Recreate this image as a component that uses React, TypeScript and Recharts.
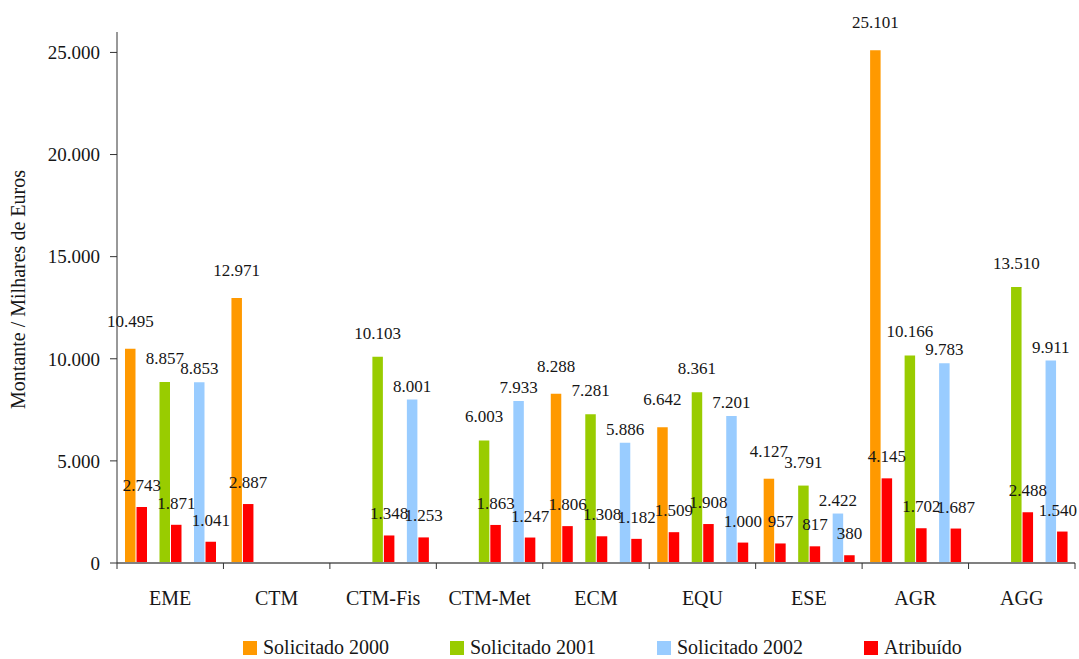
import { BarChart, Bar, XAxis, YAxis, Legend, LabelList, Label } from 'recharts';

const categories = ['EME', 'CTM', 'CTM-Fis', 'CTM-Met', 'ECM', 'EQU', 'ESE', 'AGR', 'AGG'];
const solicitado2000 = [10495, 12971, null, null, 8288, 6642, 4127, 25101, null];
const atribuido2000 = [2743, 2887, null, null, 1806, 1509, 957, 4145, null];
const solicitado2001 = [8857, null, 10103, 6003, 7281, 8361, 3791, 10166, 13510];
const atribuido2001 = [1871, null, 1348, 1863, 1308, 1908, 817, 1702, 2488];
const solicitado2002 = [8853, null, 8001, 7933, 5886, 7201, 2422, 9783, 9911];
const atribuido2002 = [1041, null, 1253, 1247, 1182, 1000, 380, 1687, 1540];
const yTicks = [0, 5000, 10000, 15000, 20000, 25000];
const legendLabels = ['Solicitado 2000', 'Solicitado 2001', 'Solicitado 2002', 'Atribuído'];

const ORANGE = '#FF9900';
const GREEN = '#99CC00';
const BLUE = '#99CCFF';
const RED = '#FF0000';
const legendColors = [ORANGE, GREEN, BLUE, RED];

const FONT = "'Liberation Serif', 'DejaVu Serif', serif";
const TEXT = '#161616';

const W = 1079;
const H = 659;
const MARGIN = { top: 32, right: 4, bottom: 0, left: 0 };
const Y_AXIS_W = 117;
const BAND = (W - MARGIN.right - MARGIN.left - Y_AXIS_W) / categories.length;

const data = categories.map((name, i) => ({
  name,
  s2000: solicitado2000[i],
  a2000: atribuido2000[i],
  s2001: solicitado2001[i],
  a2001: atribuido2001[i],
  s2002: solicitado2002[i],
  a2002: atribuido2002[i],
}));

// portuguese style thousands: 10.495
const fmt = (v: any) => {
  if (v === null || v === undefined || v === '') return '';
  return String(v).replace(/\B(?=(\d{3})+(?!\d))/g, '.');
};

// value label above a bar; lift = gap between bar top and text baseline
const valueLabel = (lift: number) => (props: any) => {
  const { value } = props;
  if (value === null || value === undefined) return null;
  const vb = props.viewBox || props;
  let cx = vb.x + vb.width / 2;
  let anchor: 'middle' | 'end' = 'middle';
  if (cx + 20 > W) {
    cx = W - 2;
    anchor = 'end';
  }
  return (
    <text x={cx} y={vb.y - lift} textAnchor={anchor} fill={TEXT} fontSize={17} fontFamily={FONT}>
      {fmt(value)}
    </text>
  );
};

function CategoryTick(props: any) {
  const { x, y, payload, index } = props;
  const half = BAND / 2;
  return (
    <g>
      <line x1={x - half} x2={x - half} y1={y} y2={y + 6} stroke="#333" />
      {index === categories.length - 1 && (
        <line x1={x + half} x2={x + half} y1={y} y2={y + 6} stroke="#333" />
      )}
      <text x={x} y={y + 42} textAnchor="middle" fill={TEXT} fontSize={20} fontFamily={FONT}>
        {payload.value}
      </text>
    </g>
  );
}

function YTitle(props: any) {
  const { viewBox } = props;
  const cx = 25;
  const cy = viewBox.y + viewBox.height / 2 - 8;
  return (
    <text
      x={cx}
      y={cy}
      transform={`rotate(-90, ${cx}, ${cy})`}
      textAnchor="middle"
      fill={TEXT}
      fontSize={20}
      fontFamily={FONT}
    >
      Montante / Milhares de Euros
    </text>
  );
}

function ChartLegend() {
  return (
    <div
      style={{
        display: 'flex',
        alignItems: 'flex-end',
        height: 46,
        paddingLeft: 243,
        boxSizing: 'border-box',
        fontFamily: FONT,
        fontSize: 20,
        color: TEXT,
      }}
    >
      {legendLabels.map((label, i) => (
        <div key={label} style={{ display: 'flex', alignItems: 'center', width: 207 }}>
          <span style={{ display: 'inline-block', width: 14, height: 14, background: legendColors[i], marginRight: 6 }} />
          <span>{label}</span>
        </div>
      ))}
    </div>
  );
}

export default function App() {
  return (
    <div style={{ position: 'absolute', left: 0, top: 0, width: W, height: H, background: '#fff' }}>
      <BarChart width={W} height={H} data={data} margin={MARGIN} barGap={1} barSize={10.5}>
        <XAxis
          dataKey="name"
          height={50}
          interval={0}
          tickSize={0}
          tickMargin={0}
          tickLine={false}
          axisLine={{ stroke: '#808080', strokeWidth: 2 }}
          tick={<CategoryTick />}
        />
        <YAxis
          width={Y_AXIS_W}
          domain={[0, 26000]}
          ticks={yTicks}
          tickFormatter={fmt}
          tickSize={7}
          tickMargin={10}
          axisLine={{ stroke: '#333' }}
          tickLine={{ stroke: '#333' }}
          tick={{ fill: TEXT, fontSize: 19, fontFamily: FONT }}
        >
          <Label content={<YTitle />} />
        </YAxis>
        <Legend verticalAlign="bottom" height={46} content={<ChartLegend />} />
        <Bar dataKey="s2000" fill={ORANGE} isAnimationActive={false}>
          <LabelList dataKey="s2000" content={valueLabel(22)} />
        </Bar>
        <Bar dataKey="a2000" fill={RED} isAnimationActive={false}>
          <LabelList dataKey="a2000" content={valueLabel(16)} />
        </Bar>
        <Bar dataKey="gap1" fill="none" isAnimationActive={false} legendType="none" />
        <Bar dataKey="s2001" fill={GREEN} isAnimationActive={false}>
          <LabelList dataKey="s2001" content={valueLabel(18)} />
        </Bar>
        <Bar dataKey="a2001" fill={RED} isAnimationActive={false}>
          <LabelList dataKey="a2001" content={valueLabel(16)} />
        </Bar>
        <Bar dataKey="gap2" fill="none" isAnimationActive={false} legendType="none" />
        <Bar dataKey="s2002" fill={BLUE} isAnimationActive={false}>
          <LabelList dataKey="s2002" content={valueLabel(8)} />
        </Bar>
        <Bar dataKey="a2002" fill={RED} isAnimationActive={false}>
          <LabelList dataKey="a2002" content={valueLabel(16)} />
        </Bar>
      </BarChart>
    </div>
  );
}
